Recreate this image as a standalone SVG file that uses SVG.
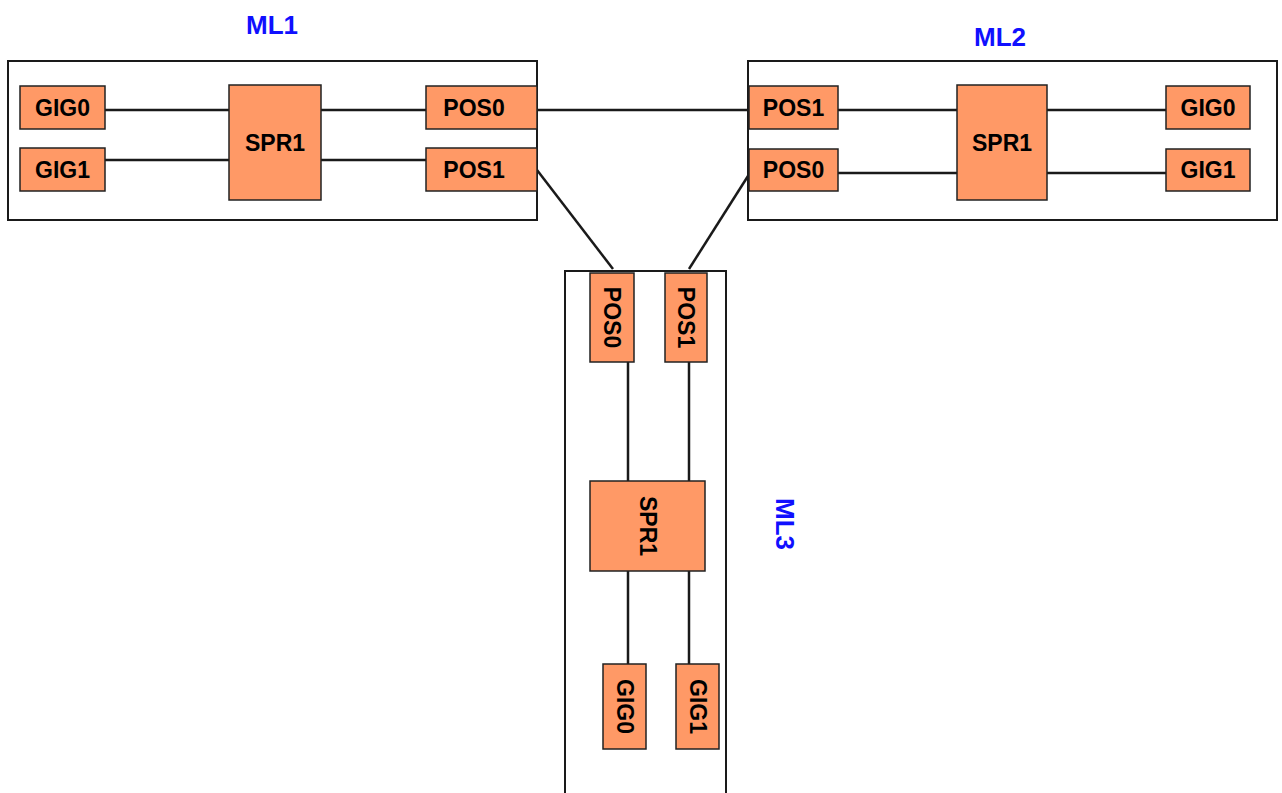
<svg xmlns="http://www.w3.org/2000/svg" width="1282" height="793" viewBox="0 0 1282 793">
<style>
.grp{fill:#fff;stroke:#1a1a1a;stroke-width:2}
.nd{fill:#FF9966;stroke:#222;stroke-width:1.5}
.lbl{font-family:"Liberation Sans",Arial,sans-serif;font-weight:bold;font-size:23px;fill:#000;text-anchor:middle;dominant-baseline:central}
.ml{font-family:"Liberation Sans",Arial,sans-serif;font-weight:bold;font-size:26px;fill:#1010ff;text-anchor:middle;dominant-baseline:central}
.cn{stroke:#1a1a1a;stroke-width:2.5;fill:none}
</style>
<rect width="1282" height="793" fill="#fff"/>
<g id="ML1">
<rect class="grp" x="8" y="61" width="529" height="159"/>
<text class="ml" x="272" y="25">ML1</text>
</g>
<g id="ML2">
<rect class="grp" x="748" y="61" width="529" height="159"/>
<text class="ml" x="1000" y="37">ML2</text>
</g>
<g id="ML3">
<path class="grp" d="M565,794 V271 H726 V794"/>
<text class="ml" transform="translate(785,524) rotate(90)">ML3</text>
</g>
<g id="connectors">
<line class="cn" x1="105" y1="110" x2="229" y2="110"/>
<line class="cn" x1="105" y1="160" x2="229" y2="160"/>
<line class="cn" x1="321" y1="110" x2="426" y2="110"/>
<line class="cn" x1="321" y1="160" x2="426" y2="160"/>
<line class="cn" x1="537" y1="110" x2="749" y2="110"/>
<line class="cn" x1="838" y1="110" x2="957" y2="110"/>
<line class="cn" x1="838" y1="173" x2="957" y2="173"/>
<line class="cn" x1="1047" y1="110" x2="1166" y2="110"/>
<line class="cn" x1="1047" y1="173" x2="1166" y2="173"/>
<line class="cn" x1="537" y1="170" x2="613" y2="269"/>
<line class="cn" x1="748" y1="176" x2="689" y2="269"/>
<line class="cn" x1="628" y1="362" x2="628" y2="481"/>
<line class="cn" x1="689" y1="362" x2="689" y2="481"/>
<line class="cn" x1="628" y1="571" x2="628" y2="664"/>
<line class="cn" x1="689" y1="571" x2="689" y2="664"/>
</g>
<g id="ML1_GIG0"><rect class="nd" x="20" y="86" width="85" height="43"/><text class="lbl" x="62.5" y="108">GIG0</text></g>
<g id="ML1_GIG1"><rect class="nd" x="20" y="148" width="85" height="43"/><text class="lbl" x="62.5" y="170">GIG1</text></g>
<g id="ML1_SPR1"><rect class="nd" x="229" y="85" width="92" height="115"/><text class="lbl" x="275" y="143">SPR1</text></g>
<g id="ML1_POS0"><rect class="nd" x="426" y="86" width="111" height="43"/><text class="lbl" x="474" y="108">POS0</text></g>
<g id="ML1_POS1"><rect class="nd" x="426" y="148" width="111" height="43"/><text class="lbl" x="474" y="170">POS1</text></g>
<g id="ML2_POS1"><rect class="nd" x="749" y="86" width="89" height="43"/><text class="lbl" x="793.5" y="108">POS1</text></g>
<g id="ML2_POS0"><rect class="nd" x="749" y="149" width="89" height="42"/><text class="lbl" x="793.5" y="170">POS0</text></g>
<g id="ML2_SPR1"><rect class="nd" x="957" y="85" width="90" height="115"/><text class="lbl" x="1002" y="143">SPR1</text></g>
<g id="ML2_GIG0"><rect class="nd" x="1166" y="86" width="84" height="43"/><text class="lbl" x="1208" y="108">GIG0</text></g>
<g id="ML2_GIG1"><rect class="nd" x="1166" y="149" width="84" height="42"/><text class="lbl" x="1208" y="170">GIG1</text></g>
<g id="ML3_POS0"><rect class="nd" x="590" y="273" width="44" height="89"/><text class="lbl" transform="translate(612,317.5) rotate(90)">POS0</text></g>
<g id="ML3_POS1"><rect class="nd" x="665" y="273" width="42" height="89"/><text class="lbl" transform="translate(686,317.5) rotate(90)">POS1</text></g>
<g id="ML3_SPR1"><rect class="nd" x="590" y="481" width="115" height="90"/><text class="lbl" transform="translate(647.5,526) rotate(90)">SPR1</text></g>
<g id="ML3_GIG0"><rect class="nd" x="603" y="664" width="43" height="85"/><text class="lbl" transform="translate(624.5,706.5) rotate(90)">GIG0</text></g>
<g id="ML3_GIG1"><rect class="nd" x="676" y="664" width="43" height="85"/><text class="lbl" transform="translate(697.5,706.5) rotate(90)">GIG1</text></g>
</svg>
